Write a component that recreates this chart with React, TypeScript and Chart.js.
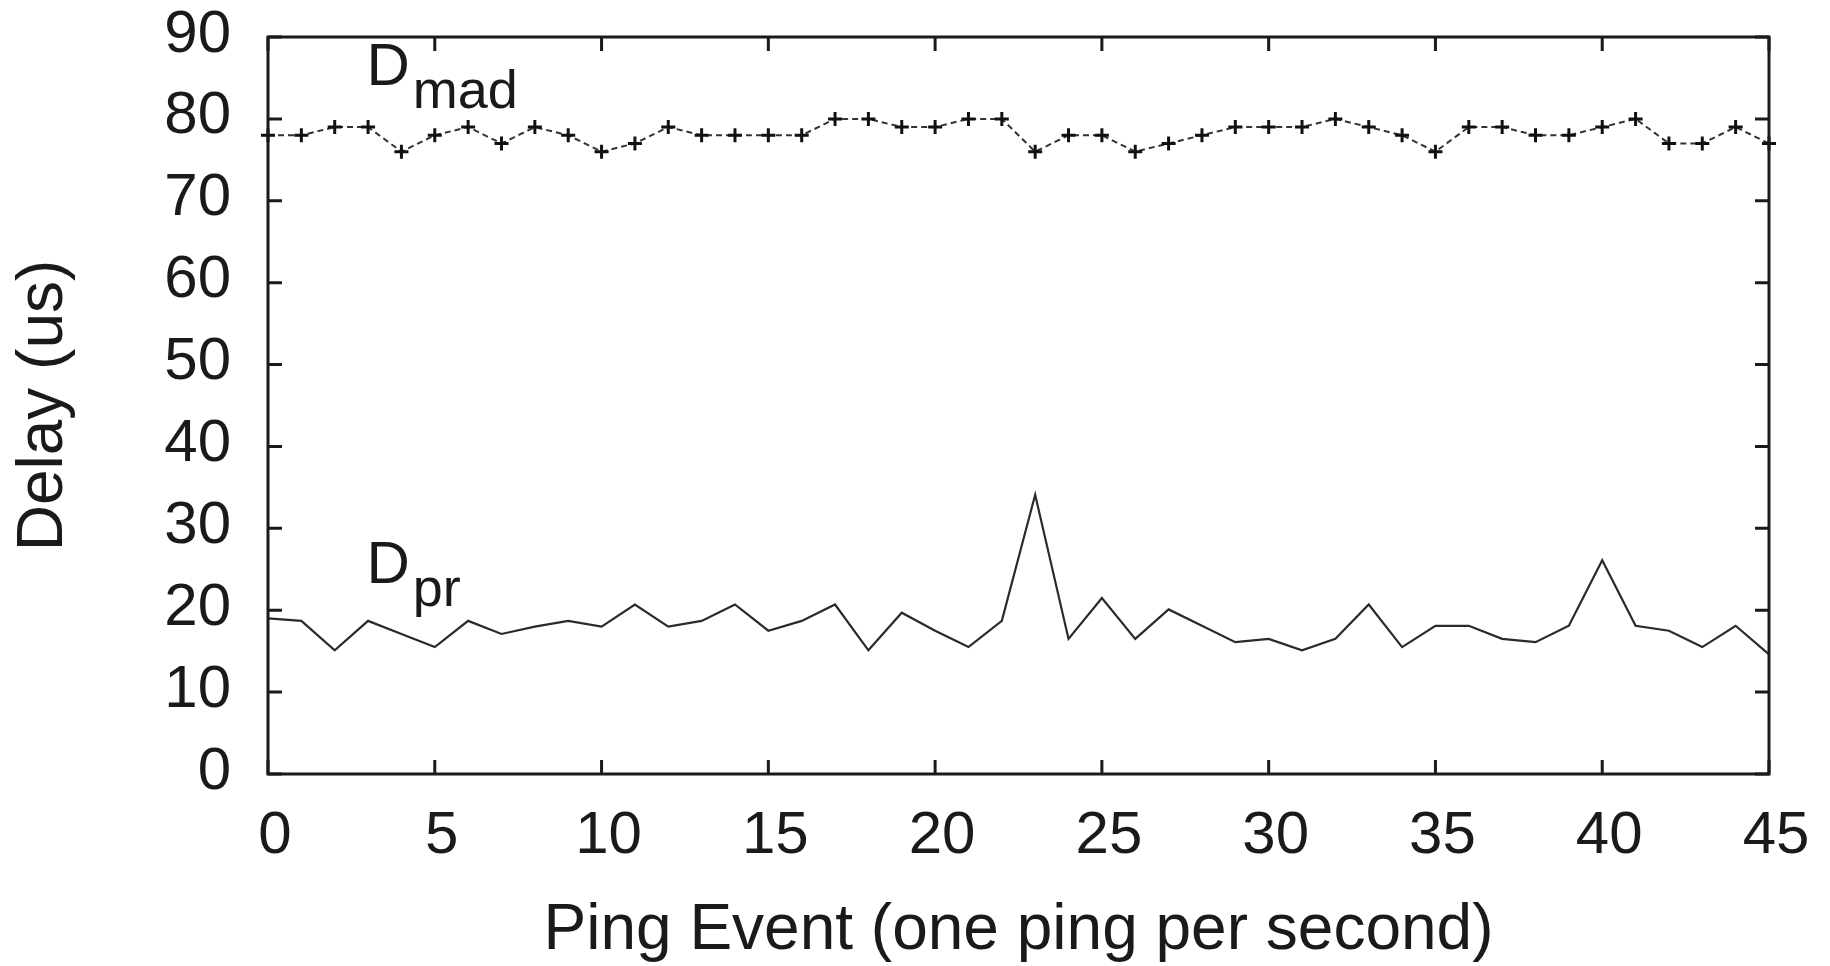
import React, { useEffect, useRef } from "react";
import { Chart, registerables } from "chart.js";

Chart.register(...registerables);

// Ping event index (one ping per second)
const pingEvents = [
  0, 1, 2, 3, 4, 5, 6, 7, 8, 9, 10, 11, 12, 13, 14, 15, 16, 17, 18, 19, 20, 21, 22,
  23, 24, 25, 26, 27, 28, 29, 30, 31, 32, 33, 34, 35, 36, 37, 38, 39, 40, 41, 42, 43, 44, 45,
];

// D_mad delay (us)
const dMad = [
  78, 78, 79, 79, 76, 78, 79, 77, 79, 78, 76, 77, 79, 78, 78, 78, 78, 80, 80, 79, 79, 80, 80,
  76, 78, 78, 76, 77, 78, 79, 79, 79, 80, 79, 78, 76, 79, 79, 78, 78, 79, 80, 77, 77, 79, 77,
];

// D_pr delay (us)
const dPr = [
  19.0, 18.7, 15.1, 18.7, 17.1, 15.5, 18.7, 17.1, 18.0, 18.7, 18.0, 20.7, 18.0, 18.7, 20.7,
  17.5, 18.7, 20.7, 15.1, 19.7, 17.5, 15.5, 18.7, 34.1, 16.5, 21.5, 16.5, 20.1, 18.1, 16.1,
  16.5, 15.1, 16.5, 20.7, 15.5, 18.1, 18.1, 16.5, 16.1, 18.1, 26.1, 18.1, 17.5, 15.5, 18.1, 14.6,
];

const seriesNames = ["D", "D"];
const seriesSubs = ["mad", "pr"];
// label anchor in data units (x event, y delay)
const labelX = [2.95, 2.95];
const labelY = [84.1, 23.3];

const xTitle = "Ping Event (one ping per second)";
const yTitle = "Delay (us)";

const FONT = "'Liberation Sans', Arial, sans-serif";
const INK = "#1a1a1a";

const framePlugin = {
  id: "frame",
  afterDatasetsDraw(chart: any) {
    const { ctx, chartArea: a, scales } = chart;
    const xs = scales.x;
    const ys = scales.y;
    ctx.save();
    ctx.strokeStyle = INK;
    ctx.lineWidth = 3;
    ctx.strokeRect(a.left, a.top, a.right - a.left, a.bottom - a.top);
    const tl = 14;
    ctx.beginPath();
    xs.ticks.forEach((t: any) => {
      const px = xs.getPixelForValue(t.value);
      ctx.moveTo(px, a.bottom);
      ctx.lineTo(px, a.bottom - tl);
      ctx.moveTo(px, a.top);
      ctx.lineTo(px, a.top + tl);
    });
    ys.ticks.forEach((t: any) => {
      const py = ys.getPixelForValue(t.value);
      ctx.moveTo(a.left, py);
      ctx.lineTo(a.left + tl, py);
      ctx.moveTo(a.right, py);
      ctx.lineTo(a.right - tl, py);
    });
    ctx.stroke();

    // series labels
    ctx.fillStyle = INK;
    ctx.textBaseline = "alphabetic";
    ctx.textAlign = "left";
    for (let i = 0; i < seriesNames.length; i++) {
      const px = xs.getPixelForValue(labelX[i]);
      const py = ys.getPixelForValue(labelY[i]);
      ctx.font = `60px ${FONT}`;
      ctx.fillText(seriesNames[i], px, py);
      const w = ctx.measureText(seriesNames[i]).width;
      ctx.font = `54px ${FONT}`;
      ctx.fillText(seriesSubs[i], px + w + 3, py + 23);
    }
    ctx.restore();
  },
};

export default function App() {
  const ref = useRef<HTMLCanvasElement | null>(null);

  useEffect(() => {
    if (!ref.current) return;
    const chart = new Chart(ref.current, {
      type: "line",
      data: {
        datasets: [
          {
            label: "Dmad",
            data: pingEvents.map((x, i) => ({ x, y: dMad[i] })),
            borderColor: "#333333",
            borderWidth: 2,
            borderDash: [6, 4],
            pointStyle: "cross",
            pointRadius: 7,
            pointBorderWidth: 3,
            pointBorderColor: "#111111",
            pointBackgroundColor: "#111111",
            tension: 0,
            clip: false as any,
          },
          {
            label: "Dpr",
            data: pingEvents.map((x, i) => ({ x, y: dPr[i] })),
            borderColor: "#2a2a2a",
            borderWidth: 2.2,
            pointRadius: 0,
            tension: 0,
            clip: false as any,
          },
        ],
      },
      options: {
        responsive: false,
        animation: false,
        devicePixelRatio: 1,
        layout: { padding: { left: 0, right: 61, top: 37, bottom: 0 } },
        plugins: {
          legend: { display: false },
          tooltip: { enabled: false },
        },
        scales: {
          x: {
            type: "linear",
            min: 0,
            max: 45,
            ticks: {
              stepSize: 5,
              padding: 26,
              labelOffset: 7,
              color: INK,
              font: { family: FONT, size: 60 },
              maxRotation: 0,
            },
            grid: { display: false, drawTicks: false },
            border: { display: false },
            title: {
              display: true,
              text: xTitle,
              color: INK,
              font: { family: FONT, size: 64 },
              padding: { top: 0, bottom: -4 },
            },
            afterFit(scale: any) {
              scale.height = 192;
              scale.paddingLeft = 0;
              scale.paddingRight = 0;
            },
          },
          y: {
            type: "linear",
            min: 0,
            max: 90,
            ticks: {
              stepSize: 10,
              padding: 37,
              labelOffset: -2,
              color: INK,
              font: { family: FONT, size: 60 },
            },
            grid: { display: false, drawTicks: false },
            border: { display: false },
            title: {
              display: true,
              text: yTitle,
              color: INK,
              font: { family: FONT, size: 64 },
              padding: { top: 6, bottom: 0 },
            },
            afterFit(scale: any) {
              scale.width = 268;
              scale.paddingTop = 0;
              scale.paddingBottom = 0;
            },
          },
        },
      },
      plugins: [framePlugin],
    });
    return () => chart.destroy();
  }, []);

  return (
    <div
      style={{
        position: "fixed",
        left: 0,
        top: 0,
        width: 1830,
        height: 966,
        background: "#ffffff",
      }}
    >
      <canvas ref={ref} width={1830} height={966} style={{ width: 1830, height: 966, display: "block" }} />
    </div>
  );
}
